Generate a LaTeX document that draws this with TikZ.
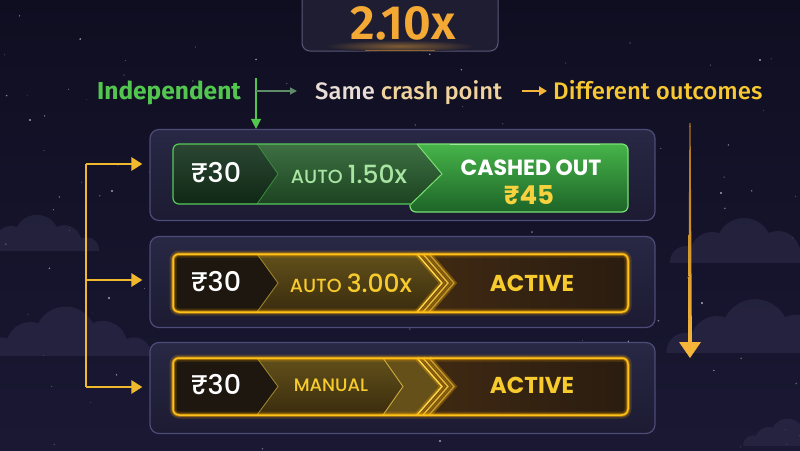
\documentclass[tikz,border=0pt]{standalone}
\usepackage{fontspec}
\setmainfont{Fira Sans}
\newfontfamily\firam{Fira Sans Medium}
\newfontfamily\firasb{Fira Sans SemiBold}
\newfontfamily\pop{Poppins}
\newfontfamily\popm{Poppins Medium}
\usetikzlibrary{arrows.meta,calc}
\definecolor{bgtop}{HTML}{0F0E21}
\definecolor{bgbot}{HTML}{1A1833}
\definecolor{cloudc}{HTML}{312F4E}
\definecolor{panelt}{HTML}{292845}
\definecolor{panelb}{HTML}{1C1B32}
\definecolor{paneledge}{HTML}{4D4B78}
\definecolor{boxfill}{HTML}{1E1D32}
\definecolor{boxedge}{HTML}{5A5778}
\definecolor{multc}{HTML}{F5A935}
\definecolor{indepc}{HTML}{52C64F}
\definecolor{samec}{HTML}{E8DED6}
\definecolor{crashc}{HTML}{F0D39C}
\definecolor{diffc}{HTML}{F7C832}
\definecolor{brkc}{HTML}{F0B92D}
\definecolor{hgreen}{HTML}{5E8C68}
\definecolor{arrdark}{HTML}{A8701E}
\definecolor{arrbright}{HTML}{F5B53A}
\definecolor{gA}{HTML}{13321B}
\definecolor{gB}{HTML}{28602E}
\definecolor{gCt}{HTML}{46B449}
\definecolor{gCb}{HTML}{1D6428}
\definecolor{gEdge}{HTML}{55C95A}
\definecolor{gCedge}{HTML}{7AE072}
\definecolor{gText}{HTML}{A9E5A2}
\definecolor{yA}{HTML}{1D1710}
\definecolor{yBt}{HTML}{62501A}
\definecolor{yBb}{HTML}{3A2C0E}
\definecolor{yCl}{HTML}{5A3A16}
\definecolor{yCr}{HTML}{2A1C10}
\definecolor{yM}{HTML}{66501A}
\definecolor{yEdge}{HTML}{FFC21A}
\definecolor{yGlow}{HTML}{FFAE00}
\definecolor{yLine}{HTML}{FFD84A}
\definecolor{yText}{HTML}{F7CB2E}
\definecolor{cashY}{HTML}{F7D23E}
\newcommand\cloudat[3]{%
  \begin{scope}[shift={(#1,#2)},scale=#3]
    \clip (-120,-90) rectangle (120,0);
    \fill[cloudc,opacity=0.5] (-62,0) circle (16) (-36,-8) circle (22) (-4,-16) circle (28) (30,-9) circle (22) (58,0) circle (16);
  \end{scope}}
\begin{document}
\begin{tikzpicture}[x=1pt,y=-1pt,
  txt/.style={inner sep=0pt},
  panel/.style={draw=paneledge,line width=1.2pt,top color=panelt,bottom color=panelb,rounded corners=9pt,minimum width=505pt,minimum height=91pt,inner sep=0pt},
  gbar/.style={rounded corners=6pt,draw=yEdge,line width=1.5pt,
     preaction={draw=yGlow,line width=7pt,opacity=0.18},
     preaction={draw=yGlow,line width=3.5pt,opacity=0.45}},
  ychev/.style={draw=yLine,line width=1.4pt,
     preaction={draw=yGlow,line width=5pt,opacity=0.3}},
  brk/.style={draw=brkc,line width=2.6pt},
  brkarrow/.style={brk,-{Triangle[width=13pt,length=11pt]},shorten >=7pt},
  rowtxt/.style={txt,font=\popm\fontsize{27}{27}\selectfont,text=white},
  big/.style={txt,font=\pop\bfseries\fontsize{23}{23}\selectfont}]
\useasboundingbox (0,0) rectangle (800,450);
% background
\shade[top color=bgtop,bottom color=bgbot] (0,0) rectangle (800,450);
\pgfmathsetseed{42}
\foreach \i in {1,...,110}{
  \pgfmathsetmacro\sx{rnd*800}
  \pgfmathsetmacro\sy{rnd*450}
  \pgfmathsetmacro\sr{0.35+rnd*0.6}
  \pgfmathsetmacro\so{0.2+rnd*0.5}
  \fill[white,opacity=\so] (\sx,\sy) circle (\sr);
}
\foreach \p in {(112,191),(109,298),(721,193),(702,303),(660,92),(440,441),(30,120),(760,60)}
  \fill[white,opacity=0.6] \p circle (1.2);
\cloudat{40}{250}{0.8}
\cloudat{70}{355}{1.1}
\cloudat{748}{262}{1.0}
\cloudat{760}{352}{1.2}
\cloudat{790}{445}{0.6}
% top multiplier box
\draw[fill=boxfill,draw=boxedge,line width=1pt,rounded corners=8pt] (302,-12) rectangle (498,51);
\shade[inner color=multc!45!boxfill,outer color=boxfill] (400,46) ellipse (75 and 6);
\draw[multc,opacity=0.45,line width=0.8pt] (365,50.6) -- (435,50.6);
\node[txt,text=multc,font=\firasb\fontsize{48}{48}\selectfont] (mult) at (403,23) {2.10x};
% label row
\node[txt,anchor=base west,text=indepc,font=\bfseries\fontsize{24.5}{24.5}\selectfont] (indep) at (97,99.5) {Independent};
\node[txt,anchor=base west,font=\firam\fontsize{23.8}{23.8}\selectfont] (same) at (315,99.5) {\textcolor{samec}{Same} \textcolor{crashc}{crash point}};
\node[txt,anchor=base west,text=diffc,font=\firam\fontsize{24}{24}\selectfont] (diff) at (553,99.5) {Different outcomes};
% panels
\node[panel] (r1) at (402.5,175) {};
\node[panel] (r2) at (402.5,282) {};
\node[panel] (r3) at (402.5,388) {};
% connectors in label row
\coordinate (gsplit) at (256,78);
\coordinate (hsplit) at (256,91);
\draw[indepc,line width=1.5pt,-{Triangle[width=10pt,length=10pt]}] (gsplit) -- (gsplit |- r1.north);
\draw[hgreen,line width=1.3pt,-{Triangle[width=7pt,length=7pt]},shorten >=18pt] (hsplit) -- (hsplit -| same.west);
\coordinate (ystart) at ($(same.east |- hsplit)+(20,0)$);
\draw[arrbright,line width=2pt,-{Triangle[width=9pt,length=8pt]},shorten >=6pt] (ystart) -- (ystart -| diff.west);
% left bracket
\coordinate (b1) at (86,164);
\coordinate (b2) at (86,280);
\coordinate (b3) at (86,387);
\draw[brk] (b1) -- (b3);
\draw[brkarrow] (b1) -- (b1 -| r1.west);
\draw[brkarrow] (b2) -- (b2 -| r2.west);
\draw[brkarrow] (b3) -- (b3 -| r3.west);
% right arrow
\coordinate (ra1) at (690,123);
\coordinate (ra2) at (690,358);
\shade[top color=arrdark,bottom color=arrbright] ($(ra1)+(-0.6,0)$) -- ($(ra1)+(0.6,0)$) -- ($(ra2)+(1.9,-15)$) -- ($(ra2)+(-1.9,-15)$) -- cycle;
\fill[arrbright] ($(ra2)+(-11,-16)$) -- ($(ra2)+(11,-16)$) -- (ra2) -- cycle;
% ---------- row 1 (green)
\begin{scope}
  \clip[rounded corners=6pt] (173,144) rectangle (430,204);
  \fill[gB] (173,144) rectangle (430,204);
  \shade[top color=gB!90!white,bottom color=gB!70!black] (257,144) -- (430,144) -- (430,204) -- (257,204) -- cycle;
  \shade[top color=gA!90!white,bottom color=gA!80!black] (173,144) -- (257,144) -- (278,174) -- (257,204) -- (173,204) -- cycle;
\end{scope}
\shade[rounded corners=6pt,top color=gCt,bottom color=gCb] (410,144) rectangle (628,212);
\shade[top color=gB!90!white,bottom color=gB!70!black] (409,144) -- (417,144) -- (442,174) -- (411,204) -- (409,204) -- cycle;
\draw[gEdge!70!black,line width=0.8pt] (257,144) -- (278,174) -- (257,204);
\draw[gCedge,line width=1pt] (417,144) -- (442,174) -- (411,204);
\draw[gEdge,line width=1.2pt,rounded corners=6pt] (417,144) -- (173,144) -- (173,204) -- (412,204);
\draw[gCedge,line width=1.2pt,rounded corners=6pt] (417,144) -- (628,144) -- (628,212) -- (410,212) -- (410,204.5);
\draw[gCedge!60!white,line width=1pt,opacity=0.8] (450,144.6) -- (600,144.6);
\node[rowtxt] (r1amt) at (216,173) {₹30};
\node[txt,text=gText] (r1mode) at (349,174) {\popm\fontsize{19}{19}\selectfont AUTO \fontsize{25}{25}\selectfont 1.50x};
\node[big,text=white,font=\pop\bfseries\fontsize{22}{22}\selectfont] (r1state) at (531,168) {CASHED OUT};
\node[big,text=cashY,font=\pop\bfseries\fontsize{26}{26}\selectfont] (r1win) at (529,195) {₹45};
% ---------- row 2 (gold)
\begin{scope}
  \clip[rounded corners=6pt] (173,254) rectangle (628,312);
  \shade[left color=yCl,right color=yCr] (173,254) rectangle (628,312);
  \shade[top color=yBt,bottom color=yBb] (257,254) -- (417,254) -- (442,283) -- (417,312) -- (257,312) -- cycle;
  \fill[yA] (173,254) -- (257,254) -- (278,283) -- (257,312) -- (173,312) -- cycle;
\end{scope}
\draw[yLine!60!black,line width=0.9pt] (257,254) -- (278,283) -- (257,312);
\foreach \d/\o in {12/0.55,6/0.8,0/1}
  \draw[ychev,opacity=\o] (417+\d,254) -- (442+\d,283) -- (417+\d,312);
\draw[gbar] (173,254) rectangle (628,312);
\node[rowtxt] (r2amt) at (216,282) {₹30};
\node[txt,text=yText] (r2mode) at (351,283) {\popm\fontsize{19}{19}\selectfont AUTO \fontsize{25}{25}\selectfont 3.00x};
\node[big,text=yText] (r2state) at (532,283) {ACTIVE};
% ---------- row 3 (gold)
\begin{scope}
  \clip[rounded corners=6pt] (173,358) rectangle (628,415);
  \shade[left color=yCl,right color=yCr] (173,358) rectangle (628,415);
  \fill[yM] (383,358) -- (417,358) -- (442,386.5) -- (417,415) -- (383,415) -- (403,386.5) -- cycle;
  \shade[top color=yBt,bottom color=yBb] (257,358) -- (383,358) -- (403,386.5) -- (383,415) -- (257,415) -- cycle;
  \fill[yA] (173,358) -- (257,358) -- (278,386.5) -- (257,415) -- (173,415) -- cycle;
\end{scope}
\draw[yLine!60!black,line width=0.9pt] (257,358) -- (278,386.5) -- (257,415);
\draw[yLine!80!black,line width=0.9pt] (383,358) -- (403,386.5) -- (383,415);
\foreach \d/\o in {12/0.55,6/0.8,0/1}
  \draw[ychev,opacity=\o] (417+\d,358) -- (442+\d,386.5) -- (417+\d,415);
\draw[gbar] (173,358) rectangle (628,415);
\node[rowtxt] (r3amt) at (216,385) {₹30};
\node[txt,text=yText,font=\popm\fontsize{18}{18}\selectfont] (r3mode) at (331,385) {MANUAL};
\node[big,text=yText] (r3state) at (532,385) {ACTIVE};
\end{tikzpicture}
\end{document}
